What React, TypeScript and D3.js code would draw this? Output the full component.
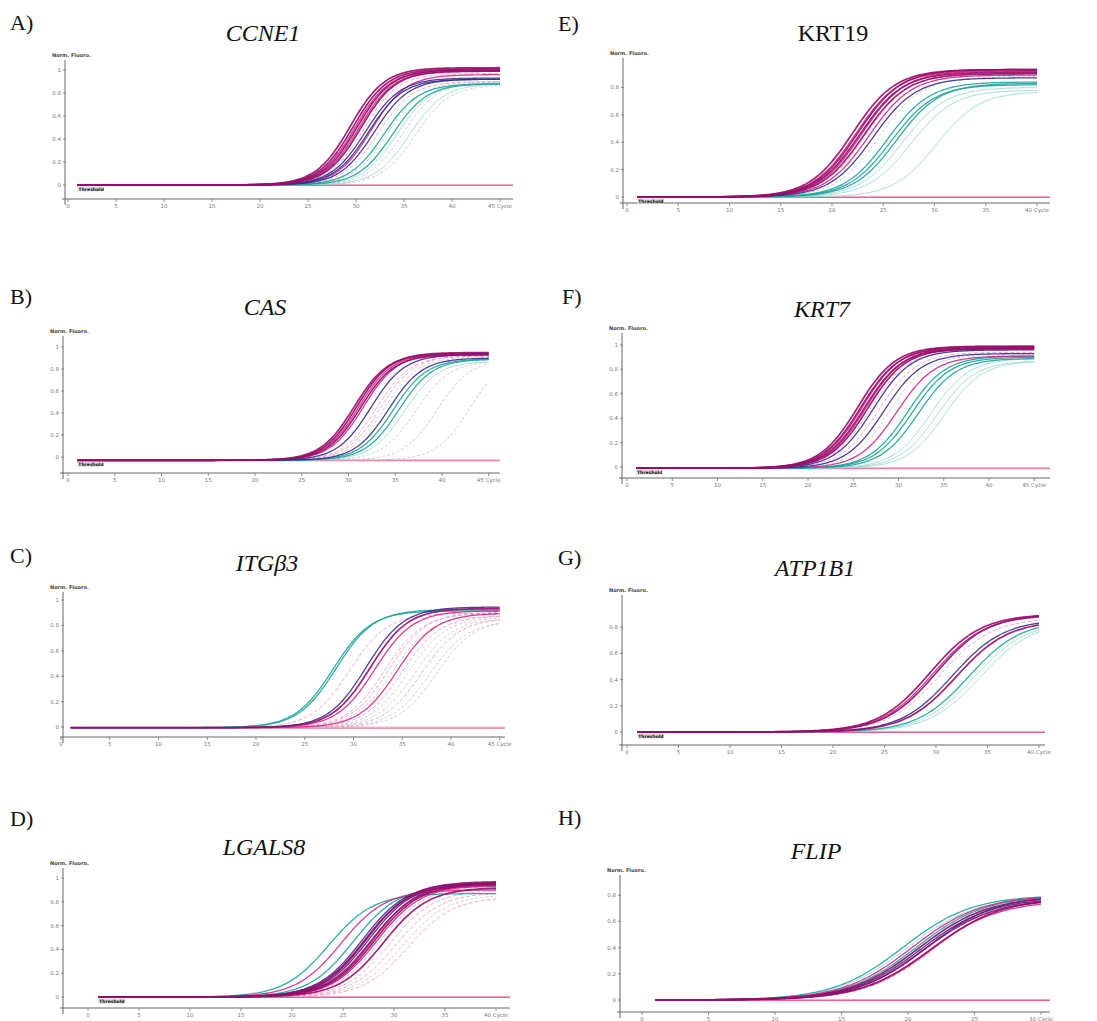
import React from "react";
import * as d3 from "d3";

// ---------- data ----------
const panelLetters = ["A)", "B)", "C)", "D)", "E)", "F)", "G)", "H)"];
const geneNames = ["CCNE1", "CAS", "ITGβ3", "LGALS8", "KRT19", "KRT7", "ATP1B1", "FLIP"];
const geneItalic = [true, true, true, true, false, true, true, true];
const cycleMax = [45, 45, 45, 40, 40, 45, 40, 30];
const cycleTicks45 = [0, 5, 10, 15, 20, 25, 30, 35, 40, 45];
const cycleTicks40 = [0, 5, 10, 15, 20, 25, 30, 35, 40];
const cycleTicks30 = [0, 5, 10, 15, 20, 25, 30];
const fluoTicksFull = [0, 0.2, 0.4, 0.6, 0.8, 1];
const fluoTicksShort = [0, 0.2, 0.4, 0.6, 0.8];
const cycleAxisName = "Cycle";
const fluoAxisName = "Norm. Fluoro.";
const thresholdName = "Threshold";

// rise width (cycles) and baseline level per panel
const riseWidth = [1.8, 1.8, 1.95, 2.2, 2.1, 2.1, 2.5, 2.6];
const baselineLevel = [0, -0.03, -0.005, 0, 0, -0.01, 0, 0];

// group: 0 dark magenta, 1 magenta, 2 light pink, 3 teal, 4 light cyan, 5 indigo, 6 grey
const ccne1Ct = [29.4, 29.7, 29.9, 30.1, 30.3, 30.5, 30.8, 31.0, 31.3, 31.6, 31.9, 32.3, 32.9, 33.3, 33.8, 34.3, 34.9, 35.6, 36.2];
const ccne1Top = [1.02, 1.01, 1.0, 1.0, 0.99, 0.99, 0.97, 0.93, 0.92, 0.96, 0.92, 0.9, 0.88, 0.9, 0.88, 0.89, 0.9, 0.88, 0.87];
const ccne1Group = [0, 0, 1, 0, 1, 0, 2, 5, 5, 1, 5, 2, 3, 6, 3, 4, 6, 4, 6];

const casCt = [30.6, 30.9, 31.1, 31.3, 31.6, 32.4, 33.0, 33.4, 33.8, 34.3, 34.8, 35.4, 36.0, 37.2, 39.5, 43.0];
const casTop = [0.97, 0.98, 0.97, 0.96, 0.97, 0.96, 0.95, 0.95, 0.94, 0.93, 0.92, 0.92, 0.9, 0.9, 0.92, 0.95];
const casGroup = [0, 0, 1, 0, 1, 5, 2, 2, 6, 5, 3, 3, 4, 6, 6, 6];

const itgCt = [27.9, 28.2, 29.6, 31.3, 31.7, 32.2, 33.2, 33.6, 34.0, 34.5, 35.0, 35.6, 36.3, 37.0, 37.8, 38.5];
const itgTop = [0.92, 0.93, 0.9, 0.95, 0.94, 0.92, 0.9, 0.91, 0.88, 0.9, 0.88, 0.87, 0.86, 0.86, 0.84, 0.85];
const itgGroup = [3, 3, 2, 5, 0, 1, 2, 2, 6, 1, 2, 6, 6, 2, 6, 6];

const lgalsCt = [23.6, 24.8, 26.0, 26.9, 27.1, 27.3, 27.5, 27.7, 27.9, 28.1, 28.3, 28.6, 29.0, 29.6, 30.2, 30.8, 31.4];
const lgalsTop = [0.87, 0.9, 0.93, 0.96, 0.95, 0.97, 0.96, 0.94, 0.96, 0.95, 0.94, 0.93, 0.92, 0.9, 0.88, 0.86, 0.84];
const lgalsGroup = [3, 1, 3, 5, 0, 0, 5, 1, 0, 0, 1, 2, 0, 2, 2, 6, 2];

const krt19Ct = [22.0, 22.3, 22.5, 22.7, 22.9, 23.1, 23.3, 23.6, 24.0, 24.6, 25.4, 25.8, 26.3, 26.9, 27.7, 30.2];
const krt19Top = [0.93, 0.92, 0.93, 0.91, 0.92, 0.9, 0.91, 0.89, 0.87, 0.88, 0.84, 0.82, 0.83, 0.8, 0.78, 0.77];
const krt19Group = [0, 1, 0, 0, 1, 0, 2, 1, 5, 6, 3, 3, 3, 4, 4, 4];

const krt7Ct = [25.5, 25.8, 26.0, 26.2, 26.4, 26.6, 26.9, 27.2, 27.8, 28.4, 29.0, 29.8, 31.0, 31.5, 32.2, 33.6, 34.3, 35.1];
const krt7Top = [1.0, 0.99, 1.0, 0.98, 0.99, 0.98, 0.97, 0.97, 0.95, 0.94, 0.93, 0.92, 0.92, 0.91, 0.9, 0.9, 0.88, 0.88];
const krt7Group = [0, 0, 1, 0, 1, 0, 2, 5, 2, 5, 6, 1, 3, 3, 3, 4, 4, 4];

const atpCt = [29.4, 29.7, 30.0, 30.4, 31.6, 32.0, 33.2, 33.7, 34.3];
const atpTop = [0.9, 0.89, 0.9, 0.87, 0.86, 0.85, 0.85, 0.84, 0.84];
const atpGroup = [0, 1, 0, 2, 5, 0, 3, 4, 4];

const flipCt = [19.6, 19.9, 20.3, 20.6, 20.8, 21.0, 21.2, 21.4, 21.6, 21.8, 22.1];
const flipTop = [0.8, 0.79, 0.8, 0.8, 0.79, 0.78, 0.77, 0.8, 0.76, 0.78, 0.8];
const flipGroup = [3, 4, 1, 3, 0, 5, 0, 5, 1, 0, 2];

const panelCt = [ccne1Ct, casCt, itgCt, lgalsCt, krt19Ct, krt7Ct, atpCt, flipCt];
const panelTop = [ccne1Top, casTop, itgTop, lgalsTop, krt19Top, krt7Top, atpTop, flipTop];
const panelGroup = [ccne1Group, casGroup, itgGroup, lgalsGroup, krt19Group, krt7Group, atpGroup, flipGroup];
const panelCycleTicks = [cycleTicks45, cycleTicks45, cycleTicks45, cycleTicks40, cycleTicks40, cycleTicks45, cycleTicks40, cycleTicks30];
const panelFluoTicks = [fluoTicksFull, fluoTicksFull, fluoTicksFull, fluoTicksFull, fluoTicksShort, fluoTicksFull, fluoTicksShort, fluoTicksShort];
const hasThreshold = [true, true, false, true, true, true, true, false];

// ---------- layout & style ----------
const layout = [
  { c0: 68, cpx: 9.6, y0: 185, upx: 115, axX: 65, axY: 199, axR: 513, axT: 60, lx: 10, ly: 30, tx: 263, ty: 41 },
  { c0: 68, cpx: 9.35, y0: 457, upx: 110, axX: 63, axY: 473, axR: 500, axT: 336, lx: 10, ly: 304, tx: 265, ty: 315 },
  { c0: 61, cpx: 9.75, y0: 727, upx: 127, axX: 63, axY: 737, axR: 505, axT: 592, lx: 10, ly: 563, tx: 267, ty: 571 },
  { c0: 88, cpx: 10.2, y0: 997, upx: 119, axX: 63, axY: 1008, axR: 510, axT: 868, lx: 10, ly: 826, tx: 264, ty: 855 },
  { c0: 627, cpx: 10.25, y0: 197, upx: 137, axX: 623, axY: 203, axR: 1050, axT: 58, lx: 558, ly: 31, tx: 833, ty: 41 },
  { c0: 627, cpx: 9.05, y0: 467, upx: 122, axX: 622, axY: 478, axR: 1050, axT: 333, lx: 562, ly: 304, tx: 822, ty: 317 },
  { c0: 627, cpx: 10.3, y0: 732, upx: 131, axX: 622, axY: 745, axR: 1045, axT: 595, lx: 558, ly: 565, tx: 815, ty: 576 },
  { c0: 642, cpx: 13.3, y0: 1000, upx: 131, axX: 620, axY: 1012, axR: 1050, axT: 875, lx: 558, ly: 825, tx: 816, ty: 859 },
];

const groupColor = ["#960d6a", "#d1288a", "#ec92c4", "#20a39a", "#8fd9cf", "#3a2c8c", "#b9b9b9"];
const groupDash = [null, null, "4,2", null, null, null, "3,2"];
const groupWidth = [1.7, 1.3, 0.9, 1.3, 0.9, 1.3, 0.8];
const drawOrder = [6, 2, 4, 3, 1, 5, 0];

const serif = "'Liberation Serif', 'Times New Roman', serif";
const sans = "'DejaVu Sans', 'Liberation Sans', sans-serif";

function Panel({ i }: { i: number }) {
  const L = layout[i];
  const xMax = cycleMax[i];
  const x = d3.scaleLinear().domain([0, xMax]).range([L.c0, L.c0 + L.cpx * xMax]);
  const y = d3.scaleLinear().domain([0, 1]).range([L.y0, L.y0 - L.upx]);
  const k = riseWidth[i];
  const base = baselineLevel[i];
  const cts = panelCt[i];
  const tops = panelTop[i];
  const groups = panelGroup[i];
  const cycles = d3.range(1, xMax + 0.001, 0.25);

  const idx = d3.range(cts.length).sort(
    (a, b) => drawOrder.indexOf(groups[a]) - drawOrder.indexOf(groups[b])
  );

  const paths = idx.map((j) => {
    const line = d3
      .line<number>()
      .x((c) => x(c))
      .y((c) => y(base + tops[j] / (1 + Math.exp(-(c - cts[j]) / k))))
      .curve(d3.curveMonotoneX);
    const g = groups[j];
    return (
      <path
        key={j}
        d={line(cycles) || ""}
        fill="none"
        stroke={groupColor[g]}
        strokeWidth={groupWidth[g]}
        strokeDasharray={groupDash[g] || undefined}
        strokeOpacity={0.9}
      />
    );
  });

  const xTicks = panelCycleTicks[i];
  const yTicks = panelFluoTicks[i];

  return (
    <g>
      <text x={L.lx} y={L.ly} fontFamily={serif} fontSize={22} fill="#111">
        {panelLetters[i]}
      </text>
      <text
        x={L.tx}
        y={L.ty}
        textAnchor="middle"
        fontFamily={serif}
        fontSize={24}
        fontStyle={geneItalic[i] ? "italic" : "normal"}
        fill="#111"
      >
        {geneNames[i]}
      </text>
      {/* axes */}
      <line x1={L.axX} x2={L.axX} y1={L.axT} y2={L.axY + 6} stroke="#666" strokeWidth={1} />
      <line x1={L.axX - 3} x2={L.axR} y1={L.axY} y2={L.axY} stroke="#666" strokeWidth={1} />
      <text x={L.axX - 13} y={L.axT - 3} fontFamily={sans} fontSize={5} fontWeight="bold" fill="#444">
        {fluoAxisName}
      </text>
      {yTicks.map((t) => (
        <g key={"y" + t}>
          <line x1={L.axX - 2} x2={L.axX + 1} y1={y(t)} y2={y(t)} stroke="#777" strokeWidth={0.8} />
          <text x={L.axX - 4} y={y(t) + 2} textAnchor="end" fontFamily={sans} fontSize={5.5} fill="#777">
            {t === 0 ? "0" : t === 1 ? "1" : d3.format(".1f")(t)}
          </text>
        </g>
      ))}
      {xTicks.map((t, ti) => (
        <g key={"x" + t}>
          <line x1={x(t)} x2={x(t)} y1={L.axY} y2={L.axY + 3} stroke="#777" strokeWidth={0.8} />
          <text
            x={x(t)}
            y={L.axY + 9}
            textAnchor="middle"
            fontFamily={sans}
            fontSize={5.5}
            fill="#777"
          >
            {ti === xTicks.length - 1 ? `${t} ${cycleAxisName}` : String(t)}
          </text>
        </g>
      ))}
      {/* negative controls */}
      <line x1={x(1)} x2={L.axR} y1={y(base - 0.004)} y2={y(base - 0.004)} stroke="#e85c92" strokeWidth={1} />
      <line x1={x(1)} x2={L.axR} y1={y(base + 0.004)} y2={y(base + 0.004)} stroke="#f08cb4" strokeWidth={0.8} />
      {paths}
      {hasThreshold[i] && (
        <g>
          <rect x={x(1)} y={y(base) + 1.5} width={L.cpx * 2.6} height={5} fill="#ddd" />
          <text x={x(1) + 1} y={y(base) + 5.5} fontFamily={sans} fontSize={4.5} fontWeight="bold" fill="#111">
            {thresholdName}
          </text>
        </g>
      )}
    </g>
  );
}

export default function App() {
  return (
    <div style={{ position: "absolute", left: 0, top: 0 }}>
      <svg width={1097} height={1021} viewBox="0 0 1097 1021" style={{ display: "block", background: "#fff" }}>
        <rect x={0} y={0} width={1097} height={1021} fill="#fff" />
        {layout.map((_, i) => (
          <Panel key={i} i={i} />
        ))}
      </svg>
    </div>
  );
}
